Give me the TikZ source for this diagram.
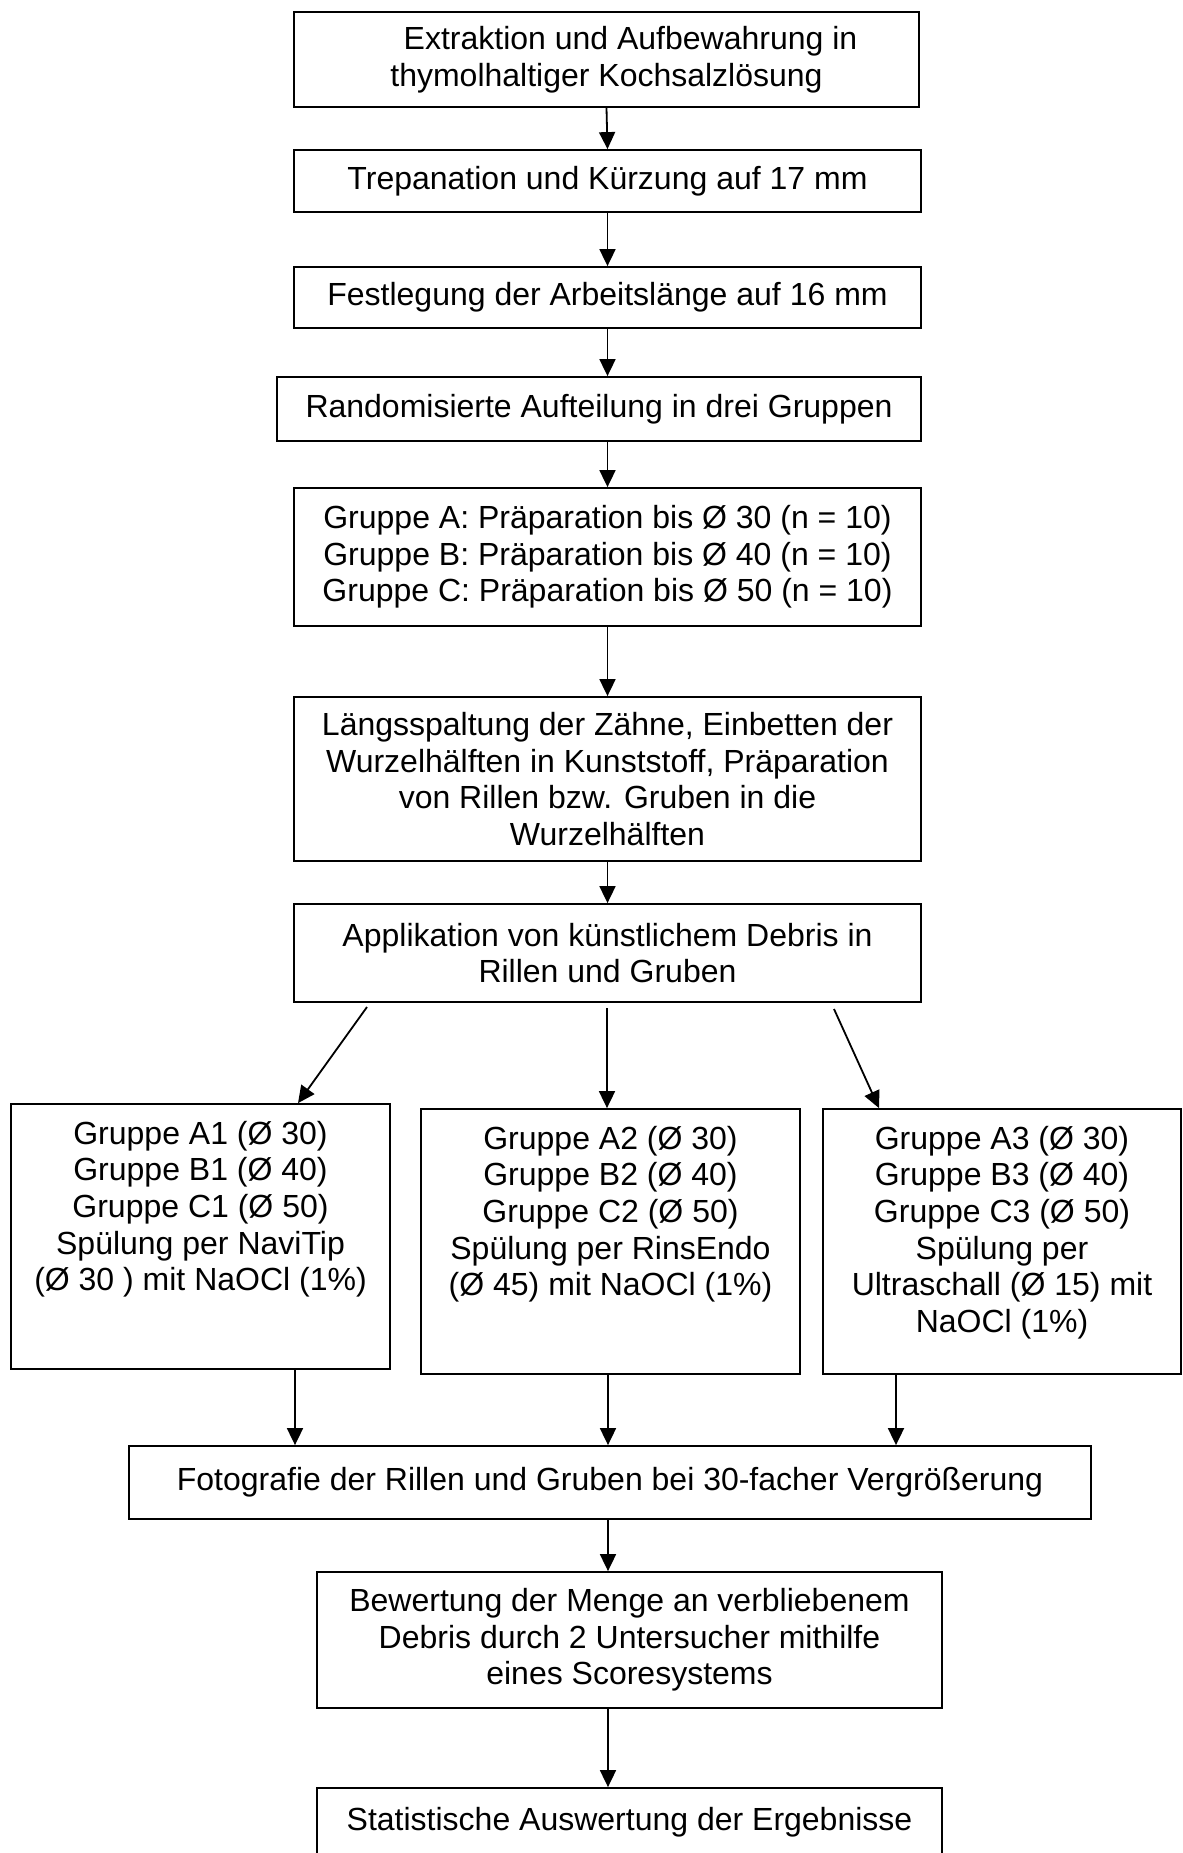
\documentclass[tikz,border=0pt]{standalone}
\usepackage{fontspec}
\setmainfont{Liberation Sans}
\usetikzlibrary{arrows.meta,calc}

\begin{document}
\begin{tikzpicture}[x=0.5pt,y=-0.5pt,line width=0.9pt,
  font=\fontsize{16pt}{18.3pt}\selectfont,
  box/.style={draw,rectangle,align=center,inner sep=0pt},
  txt/.style={anchor=north,align=center,inner sep=0pt},
  arr/.style={-{Triangle[length=8.5pt,width=8pt]}}]
  \useasboundingbox (0,0) rectangle (1183,1853);
  \clip (0,0) rectangle (1183,1853);
  \node[box,minimum width=312.5pt,minimum height=47.5pt] (extr) at (606.5,59.5) {\hspace*{24pt}Extraktion und Aufbewahrung in\\thymolhaltiger Kochsalzlösung};
  \node[box,minimum width=313.5pt,minimum height=31pt] (trep) at (607.5,181) {Trepanation und Kürzung auf 17 mm};
  \node[box,minimum width=313.5pt,minimum height=30.5pt] (arbl) at (607.5,297.5) {Festlegung der Arbeitslänge auf 16 mm};
  \node[box,minimum width=322pt,minimum height=32pt] (rand) at (599,409) {Randomisierte Aufteilung in drei Gruppen};
  \node[box,minimum width=313.5pt,minimum height=69pt] (prep) at (607.5,557) {Gruppe A: Präparation bis Ø 30 (n = 10)\\Gruppe B: Präparation bis Ø 40 (n = 10)\\Gruppe C: Präparation bis Ø 50 (n = 10)};
  \node[box,minimum width=313.5pt,minimum height=82pt] (spalt) at (607.5,779) {Längsspaltung der Zähne, Einbetten der\\Wurzelhälften in Kunststoff, Präparation\\von Rillen bzw. Gruben in die\\Wurzelhälften};
  \node[box,minimum width=313.5pt,minimum height=49pt] (appl) at (607.5,953) {Applikation von künstlichem Debris in\\Rillen und Gruben};
  \node[box,minimum width=189.5pt,minimum height=132.5pt] (grpA) at (200.5,1236.5) {};
  \node[box,minimum width=189.5pt,minimum height=132.5pt] (grpB) at (610.5,1241.5) {};
  \node[box,minimum width=179pt,minimum height=132.5pt] (grpC) at (1002,1241.5) {};
  \node[txt] (txtA) at ($(grpA.north)+(0,17)$) {Gruppe A1 (Ø 30)\\Gruppe B1 (Ø 40)\\Gruppe C1 (Ø 50)\\Spülung per NaviTip\\(Ø 30 ) mit NaOCl (1\%)};
  \node[txt] (txtB) at ($(grpB.north)+(0,17)$) {Gruppe A2 (Ø 30)\\Gruppe B2 (Ø 40)\\Gruppe C2 (Ø 50)\\Spülung per RinsEndo\\(Ø 45) mit NaOCl (1\%)};
  \node[txt] (txtC) at ($(grpC.north)+(0,17)$) {Gruppe A3 (Ø 30)\\Gruppe B3 (Ø 40)\\Gruppe C3 (Ø 50)\\Spülung per\\Ultraschall (Ø 15) mit\\NaOCl (1\%)};
  \node[box,minimum width=481pt,minimum height=36.5pt] (foto) at (610,1482.5) {Fotografie der Rillen und Gruben bei 30-facher Vergrößerung};
  \node[box,minimum width=312.5pt,minimum height=68pt] (bew) at (629.5,1640) {Bewertung der Menge an verbliebenem\\Debris durch 2 Untersucher mithilfe\\eines Scoresystems};
  \node[box,minimum width=312.5pt,minimum height=34pt] (stat) at (629.5,1822) {Statistische Auswertung der Ergebnisse};

  \draw[arr] (extr.south) -- (trep.north);
  \draw[arr] (trep.south) -- (arbl.north);
  \draw[arr] (arbl.south) -- (arbl.south |- rand.north);
  \draw[arr] (arbl.south |- rand.south) -- (prep.north);
  \draw[arr] (prep.south) -- (spalt.north);
  \draw[arr] (spalt.south) -- (appl.north);

  \coordinate (sA) at (367,1007);
  \coordinate (sB) at (607,1008);
  \coordinate (sC) at (834,1009);
  \coordinate (eA) at (298,1100);
  \coordinate (eC) at (879,1100);
  \draw[arr] (sA) -- (eA |- grpA.north);
  \draw[arr] (sB) -- (sB |- grpB.north);
  \draw[arr] (sC) -- (eC |- grpC.north);

  \coordinate (lA) at (295,1400);
  \coordinate (lB) at (608,1400);
  \coordinate (lC) at (896,1400);
  \draw[arr] (grpA.south -| lA) -- (lA |- foto.north);
  \draw[arr] (grpB.south -| lB) -- (lB |- foto.north);
  \draw[arr] (lC |- grpC.south) -- (lC |- foto.north);

  \draw[arr] (lB |- foto.south) -- (lB |- bew.north);
  \draw[arr] (lB |- bew.south) -- (lB |- stat.north);
\end{tikzpicture}
\end{document}
